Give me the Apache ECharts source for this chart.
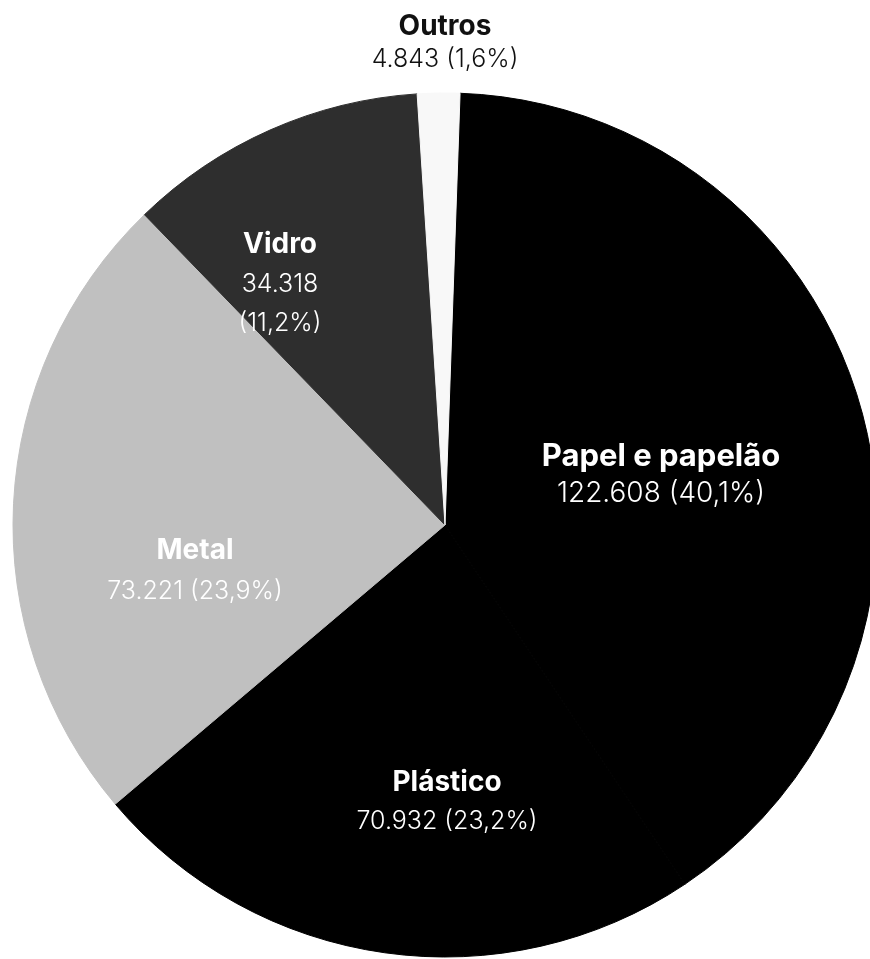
<!DOCTYPE html>
<html><head><meta charset="utf-8">
<script src="https://cdn.jsdelivr.net/npm/echarts@6/dist/echarts.min.js"></script>
<style>html,body{margin:0;padding:0;background:#fff}#c{width:870px;height:959px}</style>
</head><body><div id="c"></div>
<script>
const categories = ['Papel e papelão', 'Plástico', 'Metal', 'Vidro', 'Outros'];
const values = [122608, 70932, 73221, 34318, 4843];

// styling / layout (kept apart from the data)
const colors = ['#000000', '#000000', '#c0c0c0', '#2e2e2e', '#f8f8f8'];
const textColors = ['#ffffff', '#ffffff', '#ffffff', '#ffffff', '#111111'];
const nameSizes = [31, 28, 28, 28, 28];
const valueSizes = [28, 25, 25, 25, 25];
const lineHeights = [37, 39, 41, 39.5, 33];
const multiLine = [false, false, false, true, false];
const labelPos = [[661, 475], [447, 802], [195, 571], [280, 284], [445, 43]];

function fmt(v) { return String(v).replace(/\B(?=(\d{3})+(?!\d))/g, '.'); }

const FONT = 'Inter, "Noto Sans", sans-serif';
const rich = {};
categories.forEach((_, i) => {
  rich['b' + i] = { fontFamily: FONT, fontWeight: 700, fontSize: nameSizes[i], lineHeight: lineHeights[i], color: textColors[i] };
  rich['v' + i] = { fontFamily: FONT, fontWeight: 300, fontSize: valueSizes[i], lineHeight: lineHeights[i], color: textColors[i] };
});

const chart = echarts.init(document.getElementById('c'), null, { renderer: 'canvas' });
chart.setOption({
  animation: false,
  backgroundColor: '#ffffff',
  series: [{
    type: 'pie',
    center: [445, 525],
    radius: 432,
    startAngle: 88,
    clockwise: true,
    avoidLabelOverlap: false,
    emphasis: { disabled: true },
    labelLine: { show: false },
    data: categories.map((n, i) => ({
      name: n, value: values[i],
      itemStyle: { color: colors[i], borderColor: colors[i], borderWidth: 1 }
    })),
    label: {
      show: true,
      position: 'inside',
      formatter: p => {
        const i = p.dataIndex;
        const pct = p.percent.toFixed(1).replace('.', ',');
        if (multiLine[i]) return `{b${i}|${p.name}}\n{v${i}|${fmt(p.value)}}\n{v${i}|(${pct}%)}`;
        return `{b${i}|${p.name}}\n{v${i}|${fmt(p.value)} (${pct}%)}`;
      },
      rich: rich
    },
    labelLayout: p => ({
      x: labelPos[p.dataIndex][0],
      y: labelPos[p.dataIndex][1],
      align: 'center',
      verticalAlign: 'middle'
    })
  }]
});
</script>
</body></html>
